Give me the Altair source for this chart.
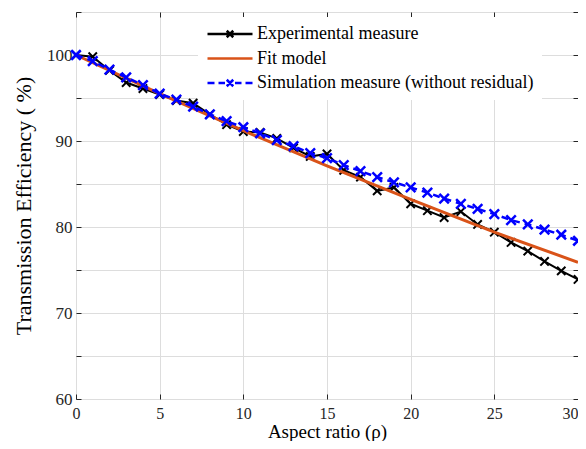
import altair as alt
import pandas as pd

# ---- data ----
x_exp = list(range(0, 31))
y_exp = [100.0, 99.8, 98.2, 96.8, 96.1, 95.4, 94.7, 94.4, 93.1, 91.9,
         91.1, 91.0, 90.3, 89.2, 88.2, 88.5, 86.6, 85.8, 84.2, 84.6,
         82.7, 81.9, 81.1, 81.8, 80.3, 79.4, 78.2, 77.2, 76.0, 74.9, 73.9]

x_sim = list(range(0, 31))
y_sim = [100.0, 99.3, 98.3, 97.4, 96.5, 95.5, 94.8, 94.0, 93.1, 92.3,
         91.6, 90.9, 90.1, 89.4, 88.6, 88.0, 87.2, 86.5, 85.8, 85.2,
         84.6, 84.0, 83.3, 82.7, 82.1, 81.5, 80.8, 80.3, 79.7, 79.1, 78.4]

x_fit = [0, 5, 10, 15, 20, 25, 30]
y_fit = [100.0, 95.5, 91.2, 87.1, 83.2, 79.4, 75.9]

series_names = ["Experimental measure", "Fit model",
                "Simulation measure (without residual)"]
series_colors = ["#000000", "#D95319", "#0000FF"]

x_ticks = [0, 5, 10, 15, 20, 25, 30]
y_ticks = [60, 65, 70, 75, 80, 85, 90, 95, 100, 105]

# ---- table ----
df = pd.concat([
    pd.DataFrame({"x": x_exp, "y": y_exp, "series": series_names[0]}),
    pd.DataFrame({"x": x_fit, "y": y_fit, "series": series_names[1]}),
    pd.DataFrame({"x": x_sim, "y": y_sim, "series": series_names[2]}),
], ignore_index=True)

FONT = "Liberation Serif"
XPATH = "M-1,-1L1,1M-1,1L1,-1"
LEG_EXP = "M-4.5,0L4.5,0M-0.65,-0.65L0.65,0.65M-0.65,0.65L0.65,-0.65"
LEG_FIT = "M-4.5,0L4.5,0"
LEG_SIM = ("M-4.5,0L-3.1,0M-2.3,0L-1.0,0M1.0,0L2.3,0M3.1,0L4.5,0"
           "M-0.65,-0.65L0.65,0.65M-0.65,0.65L0.65,-0.65")

xscale = alt.Scale(domain=[0, 30], nice=False, zero=False)
yscale = alt.Scale(domain=[60, 105], nice=False, zero=False)

base = alt.Chart(df)

main_x = alt.X("x:Q", scale=xscale, axis=alt.Axis(
    values=x_ticks, orient="bottom", offset=-5, tickSize=5, domain=False,
    grid=True, gridColor="#dddddd", tickColor="#262626",
    labelFont=FONT, labelFontSize=16, labelColor="#262626", labelPadding=6,
    labelFlush=False, labelOverlap=False,
    labelAlign={"condition": {"test": "datum.value == 30", "value": "right"},
                "value": "center"},
    title="Aspect ratio (ρ)", titleFont=FONT, titleFontSize=19,
    titleFontWeight="normal", titleColor="#000000",
    titleBaseline="alphabetic", titleY=43))
main_y = alt.Y("y:Q", scale=yscale, axis=alt.Axis(
    values=y_ticks, orient="left", offset=-5, tickSize=5, domain=False,
    grid=True, gridColor="#dddddd", tickColor="#262626",
    labelExpr="datum.value % 10 == 0 && datum.value < 105 ? datum.label : ''",
    labelFont=FONT, labelFontSize=17, labelColor="#262626", labelPadding=4,
    labelOverlap=False,
    title="Transmission Efficiency ( %)", titleFont=FONT, titleFontSize=22,
    titleFontWeight="normal", titleColor="#000000", titlePadding=11))

nx = alt.X("x:Q", scale=xscale, axis=None)
ny = alt.Y("y:Q", scale=yscale, axis=None)

exp_line = base.transform_filter(alt.datum.series == series_names[0]).mark_line(
    color="#000000", strokeWidth=2).encode(x=main_x, y=main_y)
exp_pts = base.transform_filter(alt.datum.series == series_names[0]).mark_point(
    shape=XPATH, filled=False, color="#000000", strokeWidth=2, size=70,
    opacity=1).encode(x=nx, y=ny)
fit_line = base.transform_filter(alt.datum.series == series_names[1]).mark_line(
    color="#D95319", strokeWidth=3).encode(x=nx, y=ny)
sim_line = base.transform_filter(alt.datum.series == series_names[2]).mark_line(
    color="#0000FF", strokeWidth=2.5, strokeDash=[7, 5]).encode(x=nx, y=ny)
sim_pts = base.transform_filter(alt.datum.series == series_names[2]).mark_point(
    shape=XPATH, filled=False, color="#0000FF", strokeWidth=2.5, size=90,
    opacity=1).encode(x=nx, y=ny)

leg = alt.Legend(title=None, orient="none", legendX=122, legendY=5,
                 fillColor="white", padding=8, labelFont=FONT,
                 labelFontSize=18, labelColor="#000000", labelLimit=400,
                 symbolSize=100, symbolStrokeWidth=2.5, symbolOffset=15,
                 labelOffset=18, rowPadding=6.5, symbolFillColor="transparent")

legend_layer = base.transform_filter("false").mark_point(
    filled=False, size=100, strokeWidth=2.5, opacity=1).encode(
    x=alt.X("x:Q", scale=xscale, axis=alt.Axis(
        values=x_ticks, orient="top", offset=-5, tickSize=5, domain=False,
        grid=False, labels=False, title=None, tickColor="#262626")),
    y=alt.Y("y:Q", scale=yscale, axis=alt.Axis(
        values=y_ticks, orient="right", offset=-5, tickSize=5, domain=False,
        grid=False, labels=False, title=None, tickColor="#262626")),
    color=alt.Color("series:N", scale=alt.Scale(domain=series_names,
                                                range=series_colors),
                    legend=leg),
    shape=alt.Shape("series:N", scale=alt.Scale(domain=series_names,
                                                range=[LEG_EXP, LEG_FIT, LEG_SIM]),
                    legend=leg),
)

chart = alt.layer(exp_line, exp_pts, fit_line, sim_line, sim_pts, legend_layer).resolve_axis(
    x="independent", y="independent"
).properties(
    width=502, height=387,
    autosize=alt.AutoSizeParams(type="none"),
    padding={"left": 68, "top": 4, "right": 0, "bottom": 42},
    background="white",
).configure_view(stroke="#262626", strokeWidth=1)

chart.save("out.html", embed_options={"renderer": "svg", "actions": False})
